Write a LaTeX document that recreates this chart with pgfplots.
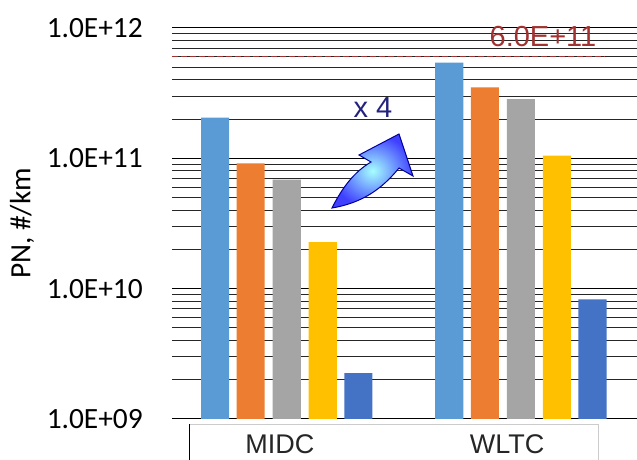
\documentclass[border=0pt]{standalone}
\usepackage{fontspec}
\setmainfont{Liberation Sans}
\newfontfamily\carlito{Carlito}
\usepackage{pgfplots}
\pgfplotsset{compat=1.18}

\definecolor{cBlue}{HTML}{5B9BD5}
\definecolor{cOrange}{HTML}{ED7D31}
\definecolor{cGray}{HTML}{A5A5A5}
\definecolor{cGold}{HTML}{FFC000}
\definecolor{cNavy}{HTML}{4472C4}
\definecolor{limitRed}{RGB}{160,50,50}
\definecolor{noteBlue}{RGB}{35,35,125}

\begin{document}
\begin{tikzpicture}
\begin{axis}[
  scale only axis, width=465pt, height=391pt,
  ymode=log, ymin=1e9, ymax=1e12,
  xmin=-0.49, xmax=1.496,
  ybar, bar width=0.12, log origin=infty,
  axis line style={draw=none},
  tick style={draw=none},
  ytick={1e9,1e10,1e11,1e12},
  yticklabels={1.0E+09,1.0E+10,1.0E+11,1.0E+12},
  minor ytick={2e9,3e9,4e9,5e9,6e9,7e9,8e9,9e9,
               2e10,3e10,4e10,5e10,6e10,7e10,8e10,9e10,
               2e11,3e11,4e11,5e11,6e11,7e11,8e11,9e11},
  ymajorgrids, yminorgrids,
  major grid style={black, line width=1pt},
  minor grid style={black!85, line width=1pt},
  yticklabel style={font=\carlito\fontsize{29.4}{30}\selectfont, anchor=east, inner sep=0pt, xshift=-29pt},
  xtick={-0.029,0.941}, xticklabels={MIDC,WLTC},
  xticklabel style={font=\fontsize{27}{28}\selectfont, text=black!85, anchor=base, inner sep=0pt, yshift=-30pt},
  ylabel={PN, \#/km},
  ylabel style={font=\carlito\fontsize{29.4}{30}\selectfont, at={(axis description cs:-0.3226,0.5)}, anchor=center},
]
% MIDC at x=0, WLTC at x=1
\addplot[fill=cBlue,   draw=none, bar shift=-0.306] coordinates {(0,2.05e11) (1,5.42e11)};
\addplot[fill=cOrange, draw=none, bar shift=-0.154] coordinates {(0,9.16e10) (1,3.51e11)};
\addplot[fill=cGray,   draw=none, bar shift=0]      coordinates {(0,6.86e10) (1,2.84e11)};
\addplot[fill=cGold,   draw=none, bar shift=0.154]  coordinates {(0,2.28e10) (1,1.05e11)};
\addplot[fill=cNavy,   draw=none, bar shift=0.306]  coordinates {(0,2.25e9)  (1,8.28e9)};
% limit line
\draw[limitRed, line width=1pt, dash pattern=on 6pt off 3pt] (axis cs:-0.49,6e11) -- (axis cs:1.36,6e11);
\coordinate (BL) at (rel axis cs:0,0);
\end{axis}

\begin{scope}[shift={(BL)}, xshift=-172pt, yshift=419pt, x=1pt, y=-1pt]
  % category strip below the bars
  \draw[black!20, line width=1pt] (190,470) -- (190,424) -- (598,424) -- (598,470);
  \draw[black, line width=1pt] (190,424) -- (190,470);
  \node[text=limitRed, font=\fontsize{29}{30}\selectfont, inner sep=0pt] at (543,37) {6.0E+11};
  \node[text=noteBlue, font=\fontsize{29}{30}\selectfont, inner sep=0pt] at (373,108) {x 4};
  % curved growth arrow
  \shade[inner color=cyan!35!white, outer color=blue!75, draw=blue!60!black, line width=1pt]
    (332,208) .. controls (342,188) and (354,172) .. (371,162)
    -- (359,155) -- (399,134) -- (413,176) -- (399,168)
    .. controls (382,189) and (362,203) .. cycle;
\end{scope}

\pgfresetboundingbox
\path (BL) ++(-172pt,-40pt) rectangle ++(637pt,459pt);
\end{tikzpicture}
\end{document}
